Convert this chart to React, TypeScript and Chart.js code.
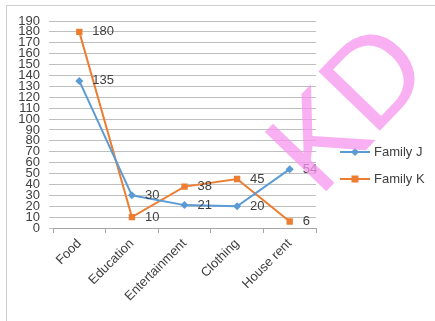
import React, { useEffect, useRef } from "react";
import { Chart, registerables } from "chart.js";

Chart.register(...registerables);

const categories = ["Food", "Education", "Entertainment", "Clothing", "House rent"];
const familyJ = [135, 30, 21, 20, 54];
const familyK = [180, 10, 38, 45, 6];
const seriesNames = ["Family J", "Family K"];
const watermarkLetters = ["K", "D"];

const FONT = "'Liberation Sans', Arial, sans-serif";
const BLUE = "#5b9bd5";
const ORANGE = "#ed7d31";

const labelsPlugin = {
  id: "valueLabels",
  afterDatasetsDraw(chart: any) {
    const ctx = chart.ctx;
    ctx.save();
    ctx.font = `13px ${FONT}`;
    ctx.fillStyle = "#404040";
    ctx.textAlign = "left";
    ctx.textBaseline = "middle";
    chart.data.datasets.forEach((ds: any, i: number) => {
      const meta = chart.getDatasetMeta(i);
      meta.data.forEach((pt: any, j: number) => {
        ctx.fillText(String(ds.data[j]), pt.x + 13, pt.y);
      });
    });
    ctx.restore();
  },
};

const legendPlugin = {
  id: "customLegend",
  afterDraw(chart: any) {
    const ctx = chart.ctx;
    ctx.save();
    const items = [
      { name: seriesNames[0], color: BLUE, shape: "diamond", y: 152 },
      { name: seriesNames[1], color: ORANGE, shape: "square", y: 179 },
    ];
    items.forEach((it) => {
      ctx.strokeStyle = it.color;
      ctx.lineWidth = 2;
      ctx.beginPath();
      ctx.moveTo(340, it.y);
      ctx.lineTo(370, it.y);
      ctx.stroke();
      ctx.fillStyle = it.color;
      const cx = 355;
      if (it.shape === "diamond") {
        ctx.beginPath();
        ctx.moveTo(cx, it.y - 4);
        ctx.lineTo(cx + 4, it.y);
        ctx.lineTo(cx, it.y + 4);
        ctx.lineTo(cx - 4, it.y);
        ctx.closePath();
        ctx.fill();
      } else {
        ctx.fillRect(cx - 3.5, it.y - 3.5, 7, 7);
      }
      ctx.fillStyle = "#404040";
      ctx.font = `13px ${FONT}`;
      ctx.textAlign = "left";
      ctx.textBaseline = "middle";
      ctx.fillText(it.name, 374, it.y);
    });
    ctx.restore();
  },
};

const watermarkPlugin = {
  id: "watermark",
  afterDraw(chart: any) {
    const ctx = chart.ctx;
    const size = 124;
    const centers = [
      [316, 138],
      [372, 75],
    ];
    ctx.save();
    ctx.font = `${size}px ${FONT}`;
    ctx.fillStyle = "rgba(247, 150, 238, 0.75)";
    ctx.textAlign = "center";
    ctx.textBaseline = "alphabetic";
    watermarkLetters.forEach((ch, i) => {
      ctx.save();
      ctx.translate(centers[i][0], centers[i][1]);
      ctx.rotate((-46 * Math.PI) / 180);
      ctx.fillText(ch, 0, size * 0.358);
      ctx.restore();
    });
    ctx.restore();
  },
};

export default function App() {
  const ref = useRef<HTMLCanvasElement>(null);
  useEffect(() => {
    if (!ref.current) return;
    const chart = new Chart(ref.current, {
      type: "line",
      data: {
        labels: categories,
        datasets: [
          {
            label: seriesNames[0],
            data: familyJ,
            borderColor: BLUE,
            backgroundColor: BLUE,
            borderWidth: 2,
            pointStyle: "rectRot",
            pointRadius: 4,
            pointBorderWidth: 0,
            tension: 0,
          },
          {
            label: seriesNames[1],
            data: familyK,
            borderColor: ORANGE,
            backgroundColor: ORANGE,
            borderWidth: 2,
            pointStyle: "rect",
            pointRadius: 4.5,
            pointBorderWidth: 0,
            tension: 0,
          },
        ],
      },
      options: {
        animation: false,
        responsive: true,
        maintainAspectRatio: false,
        layout: { padding: { left: 0, top: 21, right: 119, bottom: 0 } },
        plugins: { legend: { display: false }, tooltip: { enabled: false } },
        scales: {
          x: {
            offset: true,
            afterFit: (s: any) => {
              s.height = 93;
            },
            grid: {
              offset: true,
              drawOnChartArea: false,
              drawTicks: true,
              tickLength: 5,
              color: "#a6a6a6",
            },
            border: { display: true, color: "#a6a6a6" },
            ticks: {
              minRotation: 45,
              maxRotation: 45,
              padding: 3,
              autoSkip: false,
              color: "#404040",
              font: { family: FONT, size: 13 },
            },
          },
          y: {
            min: 0,
            max: 190,
            afterFit: (s: any) => {
              s.width = 53;
            },
            grid: { color: "#bfbfbf", tickLength: 4, drawTicks: true },
            border: { display: false },
            ticks: {
              stepSize: 10,
              padding: 9,
              color: "#404040",
              font: { family: FONT, size: 13 },
              autoSkip: false,
            },
          },
        },
      },
      plugins: [labelsPlugin, legendPlugin, watermarkPlugin],
    });
    return () => chart.destroy();
  }, []);
  return (
    <div style={{ position: "fixed", left: 0, top: 0, width: 435, height: 321, background: "#fff", overflow: "hidden" }}>
      <div style={{ position: "absolute", left: 6, top: 5, width: 450, height: 340, border: "1px solid #d0d0d0", boxSizing: "border-box" }} />
      <div style={{ position: "absolute", left: 0, top: 0, width: 435, height: 321 }}>
        <canvas ref={ref} />
      </div>
    </div>
  );
}
